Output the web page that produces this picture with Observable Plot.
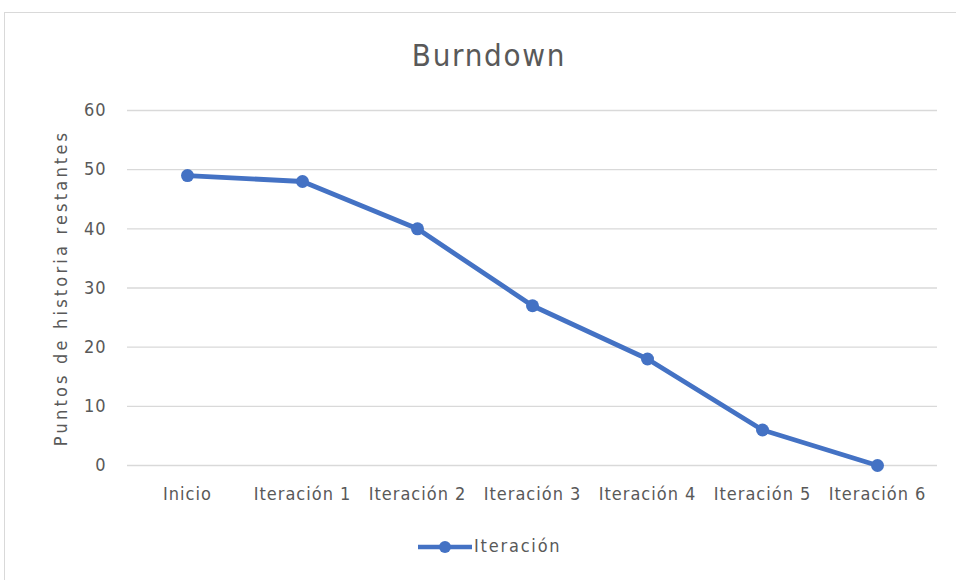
<!DOCTYPE html>
<html><head><meta charset="utf-8">
<script src="https://cdn.jsdelivr.net/npm/d3@7"></script>
<script src="https://cdn.jsdelivr.net/npm/@observablehq/plot@0.6"></script>
<style>
body{margin:0;background:#fff;font-family:"DejaVu Sans Condensed","Liberation Sans Narrow",sans-serif;}
#frame{position:absolute;left:4px;top:12px;width:975px;height:570px;border:1px solid #d9d9d9;box-sizing:border-box;}
#title{position:absolute;top:37px;left:0;width:978px;text-align:center;font-size:31px;letter-spacing:1.7px;color:#595959;}
#chart{position:absolute;top:90px;left:0;}
#legend{position:absolute;top:535px;left:418px;display:flex;align-items:center;font-size:18px;letter-spacing:1.8px;color:#595959;}
#chart svg text{letter-spacing:1px;}
</style></head><body>
<div id="frame"></div>
<div id="title">Burndown</div>
<div id="chart"></div>
<div id="legend"><svg width="56" height="20"><line x1="0" y1="11" x2="54" y2="11" stroke="#4472C4" stroke-width="4.5"/><circle cx="27" cy="11" r="6" fill="#4472C4"/></svg><span>Iteración</span></div>
<script>
const categories = ["Inicio","Iteración 1","Iteración 2","Iteración 3","Iteración 4","Iteración 5","Iteración 6"];
const remaining = [49, 48, 40, 27, 18, 6, 0];
const yTicks = [0,10,20,30,40,50,60];
const yLabel = "Puntos de historia restantes";
const data = categories.map((c,i)=>({c, v: remaining[i]}));
const plot = Plot.plot({
  width: 956, height: 420,
  marginTop: 20, marginBottom: 45, marginLeft: 127, marginRight: 19,
  style: {fontFamily: '"DejaVu Sans Condensed","Liberation Sans Narrow",sans-serif', fontSize: "18px", color: "#595959", background: "transparent"},
  x: {type: "point", domain: categories, padding: 0.5, label: null},
  y: {domain: [0,60], label: null},
  marks: [
    Plot.ruleY(yTicks, {stroke: "#d9d9d9", strokeWidth: 1.3, strokeOpacity: 1}),
    Plot.axisX({tickSize: 0, tickPadding: 22, fontSize: 18}),
    Plot.axisY({ticks: yTicks, tickSize: 0, tickPadding: 21, fontSize: 18}),
    Plot.line(data, {x: "c", y: "v", stroke: "#4472C4", strokeWidth: 4.8, strokeLinejoin: "round"}),
    Plot.dot(data, {x: "c", y: "v", r: 6.5, fill: "#4472C4"}),
    Plot.text([yLabel], {frameAnchor: "left", textAnchor: "middle", dx: -66, rotate: -90, fontSize: 18, fill: "#595959"})
  ]
});
document.getElementById("chart").appendChild(plot);
plot.querySelectorAll("text").forEach(t => { if (t.textContent === yLabel) t.style.letterSpacing = "3.2px"; });
</script>
</body></html>
